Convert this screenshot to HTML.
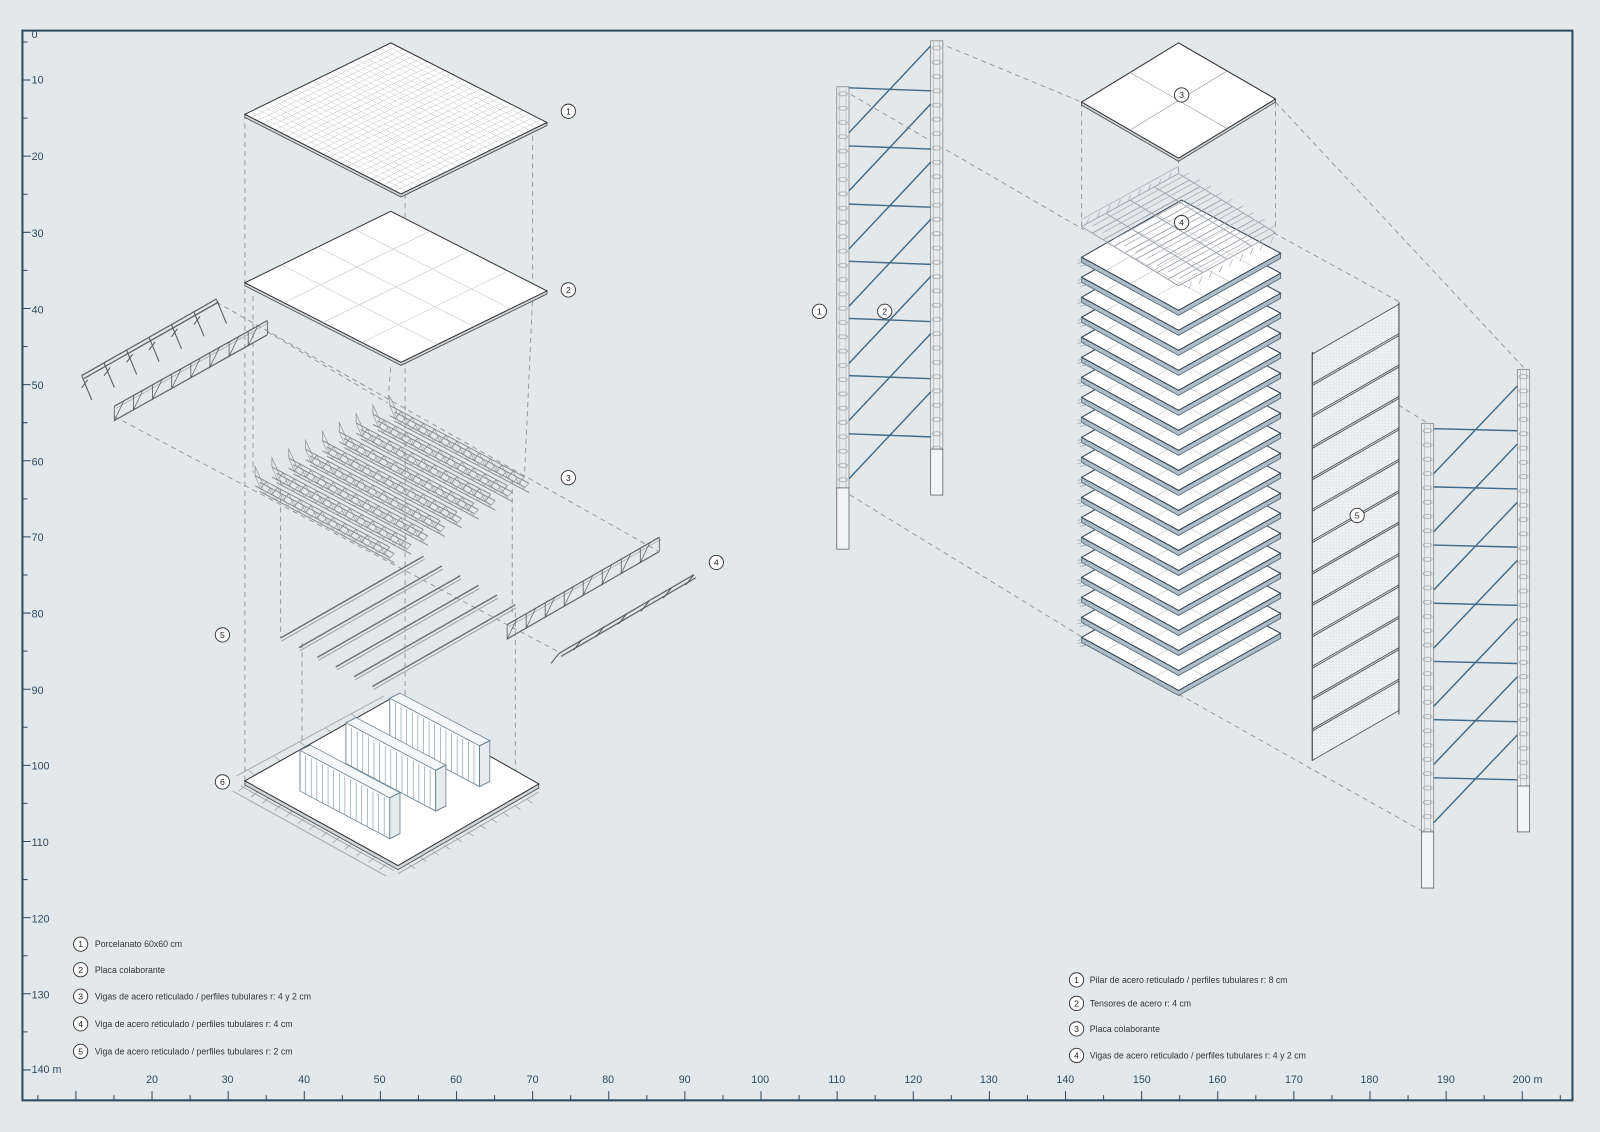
<!DOCTYPE html>
<html><head><meta charset="utf-8">
<style>
html,body{margin:0;padding:0;background:#e3e8eb;}
svg{display:block;}
text{font-family:"Liberation Sans",sans-serif;}
.ns{vector-effect:non-scaling-stroke;}
</style></head>
<body>
<svg xmlns="http://www.w3.org/2000/svg" xmlns:xlink="http://www.w3.org/1999/xlink" width="1600" height="1132" viewBox="0 0 1568 1109" preserveAspectRatio="none">
<defs>
<pattern id="g26" patternUnits="userSpaceOnUse" width="3.846" height="3.846"><path d="M0,0H3.846M0,0V3.846" stroke="#9aa3ab" stroke-width="0.35" fill="none"/></pattern>
<pattern id="dots" patternUnits="userSpaceOnUse" width="3" height="3"><rect width="3" height="3" fill="#eef0f2"/><circle cx="1.5" cy="1.5" r="0.5" fill="#cdd3d8"/></pattern>
<pattern id="rung" patternUnits="userSpaceOnUse" width="12" height="14"><ellipse cx="6" cy="7" rx="4.5" ry="2" fill="none" stroke="#999" stroke-width="0.7"/></pattern>
<g id="b3">
<path d="M0,0H149M0,10H149M5,4H154M5,13H154" stroke="#8a8a8a" stroke-width="1.1" fill="none"/>
<polyline points="0,0 6,10 12.4,0 18.4,10 24.8,0 30.8,10 37.2,0 43.2,10 49.6,0 55.6,10 62,0 68,10 74.4,0 80.4,10 86.8,0 92.8,10 99.2,0 105.2,10 111.6,0 117.6,10 124,0 130,10 136.4,0 142.4,10 148.8,0" fill="none" stroke="#8a8a8a" stroke-width="0.7"/>
<polyline points="5,4 11,13 17.4,4 23.4,13 29.8,4 35.8,13 42.2,4 48.2,13 54.6,4 60.6,13 67,4 73,13 79.4,4 85.4,13 91.8,4 97.8,13 104.2,4 110.2,13 116.6,4 122.6,13 129,4 135,13 141.4,4 147.4,13 153.8,4" fill="none" stroke="#9a9a9a" stroke-width="0.6"/>
<path d="M0,0V-9L8,3" stroke="#888" stroke-width="0.8" fill="none"/>
</g>
<g id="t2">
<path d="M0,0H172M0,14H172" stroke="#666" stroke-width="1.4" fill="none"/>
<path d="M2,3H174" stroke="#aaa" stroke-width="0.8" fill="none"/>
<path d="M0,0V14L10.75,0M21.5,0V14L32.25,0M43,0V14L53.75,0M64.5,0V14L75.25,0M86,0V14L96.75,0M107.5,0V14L118.25,0M129,0V14L139.75,0M150.5,0V14L161.25,0M172,0V14" stroke="#555" stroke-width="0.9" fill="none"/>
</g>
<g id="cab">
<polygon points="0,0 88,0 88,-40 0,-40" fill="#fff" stroke="#6a8090" stroke-width="0.9"/>
<polygon points="0,-40 88,-40 98,-50.3 10,-50.3" fill="#f4f6f7" stroke="#6a8090" stroke-width="0.8"/>
<polygon points="88,0 98,-10.3 98,-50.3 88,-40" fill="#e6ebee" stroke="#6a8090" stroke-width="0.8"/>
<path d="M5.5,-38V0M11,-38V0M16.5,-38V0M22,-38V0M27.5,-38V0M33,-38V0M38.5,-38V0M44,-38V0M49.5,-38V0M55,-38V0M60.5,-38V0M66,-38V0M71.5,-38V0M77,-38V0M82.5,-38V0" stroke="#7d93a2" stroke-width="0.6"/>
</g>
<g id="tp">
<polygon points="1060,0 1155,52 1255,-4 1255,1 1155,57 1060,5" fill="#aebdc7" stroke="#4a6272" stroke-width="0.8"/>
<path d="M1056,3L1066,1M1056,6L1066,4M1058,9L1068,7" stroke="#8fa5b3" stroke-width="0.7"/>
<polygon points="1060,0 1158,-56 1255,-4 1155,52" fill="#fff" stroke="#2f4150" stroke-width="1"/>
<path d="M1084.5,-14L1180,38M1109,-28L1205,24M1133.5,-42L1230,10M1083.75,13L1182.25,-43M1107.5,26L1206.5,-30M1131.25,39L1230.75,-17" stroke="#bbb" stroke-width="0.5"/>
</g>
<polygon id="fp" points="1286,347 1371,298 1371,326.8 1286,375.8" fill="url(#dots)" stroke="#555" stroke-width="0.9"/>
</defs>
<rect x="0" y="0" width="1568" height="1109" fill="#e3e8eb"/>

<path d="M240,112V765M522,115V290L514,467M397,190V710M383,360L380,395M248,290V463M502,470V600M275,470V625M296,630V725M505,600V770M212,296L645,540M112,408L550,640M262,325L380,395
M920,42L1060,100M826,88L1062,225M1250,100L1495,362M1248,228L1372,296M825,480L1062,625M1155,680L1395,815M1286,345L1400,415M1060,100V225M1250,100V225M1155,155V172" stroke="#8a949a" stroke-width="0.9" stroke-dasharray="5,4" fill="none"/>

<polygon points="240,112 393,190 536,120 536,123 393,193 240,115" fill="#cfd5d9" stroke="#444" stroke-width="0.8"/>
<g transform="matrix(1.43,-0.70,1.53,0.78,240,112)">
<rect x="0" y="0" width="100" height="100" fill="#fff"/>
<rect x="0" y="0" width="100" height="100" fill="url(#g26)" class="ns" stroke="#333" stroke-width="1"/>
</g>
<polygon points="240,277 393,355 536,285 536,288 393,358 240,280" fill="#cfd5d9" stroke="#444" stroke-width="0.8"/>
<g transform="matrix(1.43,-0.70,1.53,0.78,240,277)">
<rect x="0" y="0" width="100" height="100" fill="#fff" class="ns" stroke="#333" stroke-width="1"/>
<path d="M25,0V100M50,0V100M75,0V100M0,25H100M0,50H100M0,75H100" class="ns" stroke="#c4c8cc" stroke-width="0.6" fill="none"/>
</g>

<use xlink:href="#b3" transform="matrix(0.886,0.47,0,1,382,397.2)"/>
<use xlink:href="#b3" transform="matrix(0.886,0.47,0,1,365.5,405.8)"/>
<use xlink:href="#b3" transform="matrix(0.886,0.47,0,1,349,414.4)"/>
<use xlink:href="#b3" transform="matrix(0.886,0.47,0,1,332.5,423)"/>
<use xlink:href="#b3" transform="matrix(0.886,0.47,0,1,316,431.6)"/>
<use xlink:href="#b3" transform="matrix(0.886,0.47,0,1,299.5,440.2)"/>
<use xlink:href="#b3" transform="matrix(0.886,0.47,0,1,283,448.8)"/>
<use xlink:href="#b3" transform="matrix(0.886,0.47,0,1,266.5,457.4)"/>
<use xlink:href="#b3" transform="matrix(0.886,0.47,0,1,250,466)"/>

<path d="M275,625l140,-80M293,634.5l140,-80M311,644l140,-80M329,653.5l140,-80M347,663l140,-80M365,672.5l140,-80" stroke="#6f6f6f" stroke-width="1.4" fill="none"/>
<path d="M276,628l140,-80M294,637.5l140,-80M312,647l140,-80M330,656.5l140,-80M348,666l140,-80M366,675.5l140,-80" stroke="#a0a0a0" stroke-width="1" fill="none"/>

<path d="M80,368L212,293M82,371L214,296" stroke="#666" stroke-width="1.3" fill="none"/>
<path d="M80,368l10,24M102,355.5l10,24M124,343l10,24M146,330.5l10,24M168,318l10,24M190,305.5l10,24M212,293l10,24M86,372l-6,8M108,360l-6,8M130,347l-6,8M152,335l-6,8M174,322l-6,8M196,310l-6,8" stroke="#555" stroke-width="1" fill="none"/>
<use xlink:href="#t2" transform="matrix(0.872,-0.488,0,1,112,398)"/>
<use xlink:href="#t2" transform="matrix(0.867,-0.498,0,1,497,612)"/>
<path d="M548,640L680,563M550,643L682,566" stroke="#666" stroke-width="1.3" fill="none"/>
<path d="M548,640l-8,10M570,627l-8,10M592,614l-8,10M614,601.5l-8,10M636,589l-8,10M658,576l-8,10M680,563l-8,10" stroke="#555" stroke-width="1" fill="none"/>

<path d="M232,760L376,682M390,856L528,776M236,770l150,83M228,775l150,83" stroke="#aaa" stroke-width="1" fill="none"/>
<path d="M240,770l-6,5M252,776l-6,5M263,782l-6,5M275,789l-6,5M286,795l-6,5M298,802l-6,5M309,808l-6,5M321,815l-6,5M332,821l-6,5M344,827l-6,5M355,834l-6,5M367,840l-6,5M378,847l-6,5M401,847l6,4M412,840l6,4M424,834l6,4M435,828l6,4M447,821l6,4M458,815l6,4M470,808l6,4M481,802l6,4M493,796l6,4M504,789l6,4M516,783l6,4M250,760l-6,-5M275,746l-6,-5M300,732l-6,-5M325,718l-6,-5M350,704l-6,-5" stroke="#999" stroke-width="0.7" fill="none"/>
<polygon points="240,765 390,848 528,768 528,772 390,852 240,769" fill="#cfd5d9" stroke="#444" stroke-width="0.8"/>
<polygon points="240,765 382,685 528,768 390,848" fill="#fff" stroke="#333" stroke-width="1"/>
<use xlink:href="#cab" transform="matrix(1,0.53,0,1,382,724)"/>
<use xlink:href="#cab" transform="matrix(1,0.53,0,1,339,748)"/>
<use xlink:href="#cab" transform="matrix(1,0.53,0,1,294,775)"/>

<g transform="translate(820,85)"><rect width="12" height="393" fill="#e9ecee" stroke="#888" stroke-width="0.8"/><rect width="12" height="393" fill="url(#rung)"/><path d="M3,0V393M9,0V393" stroke="#aaa" stroke-width="0.6"/><rect y="393" width="12" height="60" fill="#f2f4f5" stroke="#666" stroke-width="0.8"/></g>
<g transform="translate(912,40)"><rect width="12" height="400" fill="#e9ecee" stroke="#888" stroke-width="0.8"/><rect width="12" height="400" fill="url(#rung)"/><path d="M3,0V400M9,0V400" stroke="#aaa" stroke-width="0.6"/><rect y="400" width="12" height="45" fill="#f2f4f5" stroke="#666" stroke-width="0.8"/></g>
<g transform="translate(1393,415)"><rect width="12" height="400" fill="#e9ecee" stroke="#888" stroke-width="0.8"/><rect width="12" height="400" fill="url(#rung)"/><path d="M3,0V400M9,0V400" stroke="#aaa" stroke-width="0.6"/><rect y="400" width="12" height="55" fill="#f2f4f5" stroke="#666" stroke-width="0.8"/></g>
<g transform="translate(1487,362)"><rect width="12" height="408" fill="#e9ecee" stroke="#888" stroke-width="0.8"/><rect width="12" height="408" fill="url(#rung)"/><path d="M3,0V408M9,0V408" stroke="#aaa" stroke-width="0.6"/><rect y="408" width="12" height="45" fill="#f2f4f5" stroke="#666" stroke-width="0.8"/></g>
<path d="M832,86L912,89M832,143L912,146M832,200L912,203M832,256L912,259M832,312L912,315M832,368L912,371M832,425L912,428
M832,130L912,45M832,187L912,102M832,244L912,159M832,300L912,215M832,356L912,271M832,412L912,327M832,469L912,384
M1405,420L1487,422M1405,477L1487,479M1405,534L1487,536M1405,591L1487,593M1405,648L1487,650M1405,705L1487,707M1405,762L1487,764
M1405,464L1487,378M1405,521L1487,435M1405,578L1487,492M1405,635L1487,549M1405,692L1487,606M1405,749L1487,663M1405,806L1487,720" stroke="#3f6a88" stroke-width="1.4" fill="none"/>

<use xlink:href="#tp" transform="translate(0,624.4)"/>
<use xlink:href="#tp" transform="translate(0,604.8)"/>
<use xlink:href="#tp" transform="translate(0,585.2)"/>
<use xlink:href="#tp" transform="translate(0,565.6)"/>
<use xlink:href="#tp" transform="translate(0,546)"/>
<use xlink:href="#tp" transform="translate(0,526.4)"/>
<use xlink:href="#tp" transform="translate(0,506.8)"/>
<use xlink:href="#tp" transform="translate(0,487.2)"/>
<use xlink:href="#tp" transform="translate(0,467.6)"/>
<use xlink:href="#tp" transform="translate(0,448)"/>
<use xlink:href="#tp" transform="translate(0,428.4)"/>
<use xlink:href="#tp" transform="translate(0,408.8)"/>
<use xlink:href="#tp" transform="translate(0,389.2)"/>
<use xlink:href="#tp" transform="translate(0,369.6)"/>
<use xlink:href="#tp" transform="translate(0,350)"/>
<use xlink:href="#tp" transform="translate(0,330.4)"/>
<use xlink:href="#tp" transform="translate(0,310.8)"/>
<use xlink:href="#tp" transform="translate(0,291.2)"/>
<use xlink:href="#tp" transform="translate(0,271.6)"/>
<use xlink:href="#tp" transform="translate(0,252)"/>

<g transform="matrix(0.95,-0.52,0.95,0.58,1060,222)" fill="none" stroke="#9aa0a8" stroke-width="0.9">
<path class="ns" d="M0,0H100M0,11.1H100M0,22.2H100M0,33.3H100M0,44.4H100M0,55.6H100M0,66.7H100M0,77.8H100M0,88.9H100M0,100H100M0,0V100M25,0V100M50,0V100M75,0V100M100,0V100"/>
</g>
<g transform="matrix(0.95,-0.52,0.95,0.58,1060,215)" fill="none" stroke="#aab0b8" stroke-width="0.8">
<path class="ns" d="M0,0H100M0,11.1H100M0,22.2H100M0,33.3H100M0,44.4H100M0,55.6H100M0,66.7H100M0,77.8H100M0,88.9H100M0,100H100"/>
</g>
<path d="M1065,219l3,-7M1075,214l3,-7M1085,208l3,-7M1095,203l3,-7M1105,198l3,-7M1115,192l3,-7M1125,187l3,-7M1135,182l3,-7M1145,176l3,-7M1165,283l3,-7M1175,278l3,-7M1185,272l3,-7M1195,267l3,-7M1205,261l3,-7M1215,256l3,-7M1225,250l3,-7M1235,245l3,-7M1245,239l3,-7" stroke="#aab" stroke-width="0.7"/>

<polygon points="1060,100 1155,155 1250,97 1250,100 1155,158 1060,103" fill="#cfd5d9" stroke="#444" stroke-width="0.8"/>
<polygon points="1060,100 1155,42 1250,97 1155,155" fill="#fff" stroke="#333" stroke-width="1"/>
<path d="M1107.5,71L1202.5,126M1107.5,127.5L1202.5,69.5" stroke="#999" stroke-width="0.6"/>

<use xlink:href="#fp"/>
<use xlink:href="#fp" transform="translate(0,30.77)"/>
<use xlink:href="#fp" transform="translate(0,61.54)"/>
<use xlink:href="#fp" transform="translate(0,92.31)"/>
<use xlink:href="#fp" transform="translate(0,123.08)"/>
<use xlink:href="#fp" transform="translate(0,153.85)"/>
<use xlink:href="#fp" transform="translate(0,184.62)"/>
<use xlink:href="#fp" transform="translate(0,215.38)"/>
<use xlink:href="#fp" transform="translate(0,246.15)"/>
<use xlink:href="#fp" transform="translate(0,276.92)"/>
<use xlink:href="#fp" transform="translate(0,307.69)"/>
<use xlink:href="#fp" transform="translate(0,338.46)"/>
<use xlink:href="#fp" transform="translate(0,369.23)"/>
<path d="M1286,345V745M1371,296V700" stroke="#444" stroke-width="1"/>

<rect x="22" y="30" width="1519" height="1048" fill="none" stroke="#2e4a60" stroke-width="2"/>
<path d="M22,41.1h5M22,78.4h8M22,115.7h5M22,153h8M22,190.3h5M22,227.6h8M22,264.9h5M22,302.2h8M22,339.5h5M22,376.8h8M22,414.1h5M22,451.4h8M22,488.7h5M22,526h8M22,563.3h5M22,600.6h8M22,637.9h5M22,675.2h8M22,712.5h5M22,749.8h8M22,787.1h5M22,824.4h8M22,861.7h5M22,899h8M22,936.3h5M22,973.6h8M22,1010.9h5M22,1048.2h8
M37.1,1078v-5M74.4,1078v-9M111.7,1078v-5M149,1078v-9M186.3,1078v-5M223.6,1078v-9M260.9,1078v-5M298.2,1078v-9M335.5,1078v-5M372.8,1078v-9M410.1,1078v-5M447.4,1078v-9M484.7,1078v-5M522,1078v-9M559.3,1078v-5M596.6,1078v-9M633.9,1078v-5M671.2,1078v-9M708.5,1078v-5M745.8,1078v-9M783.1,1078v-5M820.4,1078v-9M857.7,1078v-5M895,1078v-9M932.3,1078v-5M969.6,1078v-9M1006.9,1078v-5M1044.2,1078v-9M1081.5,1078v-5M1118.8,1078v-9M1156.1,1078v-5M1193.4,1078v-9M1230.7,1078v-5M1268,1078v-9M1305.3,1078v-5M1342.6,1078v-9M1379.9,1078v-5M1417.2,1078v-9M1454.5,1078v-5M1491.8,1078v-9M1529.1,1078v-5" stroke="#2e4a60" stroke-width="1"/>
<g fill="#2e4a60" font-size="10.5">
<text x="31" y="37">0</text>
<text x="31" y="82">10</text><text x="31" y="157">20</text><text x="31" y="232">30</text>
<text x="31" y="307">40</text><text x="31" y="381">50</text><text x="31" y="456">60</text>
<text x="31" y="530">70</text><text x="31" y="605">80</text><text x="31" y="680">90</text>
<text x="31" y="754">100</text><text x="31" y="829">110</text><text x="31" y="904">120</text>
<text x="31" y="978">130</text><text x="31" y="1051">140 m</text>
<g text-anchor="middle">
<text x="149" y="1061">20</text><text x="223" y="1061">30</text><text x="298" y="1061">40</text>
<text x="372" y="1061">50</text><text x="447" y="1061">60</text><text x="522" y="1061">70</text>
<text x="596" y="1061">80</text><text x="671" y="1061">90</text><text x="745" y="1061">100</text>
<text x="820" y="1061">110</text><text x="895" y="1061">120</text><text x="969" y="1061">130</text>
<text x="1044" y="1061">140</text><text x="1119" y="1061">150</text><text x="1193" y="1061">160</text>
<text x="1268" y="1061">170</text><text x="1342" y="1061">180</text><text x="1417" y="1061">190</text>
<text x="1497" y="1061">200 m</text>
</g>
</g>
<g font-size="8.6" fill="#333">
<text x="93" y="928">Porcelanato 60x60 cm</text>
<text x="93" y="953">Placa colaborante</text>
<text x="93" y="979">Vigas de acero reticulado / perfiles tubulares r: 4 y 2 cm</text>
<text x="93" y="1006">Viga de acero reticulado / perfiles tubulares r: 4 cm</text>
<text x="93" y="1033">Viga de acero reticulado / perfiles tubulares r: 2 cm</text>
<text x="1068" y="963">Pilar de acero reticulado / perfiles tubulares r: 8 cm</text>
<text x="1068" y="986">Tensores de acero r: 4 cm</text>
<text x="1068" y="1011">Placa colaborante</text>
<text x="1068" y="1037">Vigas de acero reticulado / perfiles tubulares r: 4 y 2 cm</text>
</g>
<g fill="#fff" stroke="#333" stroke-width="0.9">
<circle cx="79" cy="925" r="7"/><circle cx="79" cy="950" r="7"/><circle cx="79" cy="976" r="7"/><circle cx="79" cy="1003" r="7"/><circle cx="79" cy="1030" r="7"/>
<circle cx="1055" cy="960" r="7"/><circle cx="1055" cy="983" r="7"/><circle cx="1055" cy="1008" r="7"/><circle cx="1055" cy="1034" r="7"/>
<circle cx="557" cy="109" r="7"/><circle cx="557" cy="284" r="7"/><circle cx="557" cy="468" r="7"/><circle cx="702" cy="551" r="7"/>
<circle cx="218" cy="622" r="7"/><circle cx="218" cy="766" r="7"/>
<circle cx="803" cy="305" r="7"/><circle cx="867" cy="305" r="7"/><circle cx="1158" cy="93" r="7"/><circle cx="1158" cy="218" r="7"/><circle cx="1330" cy="505" r="7"/>
</g>
<g font-size="8.5" text-anchor="middle" fill="#222">
<text x="79" y="928">1</text><text x="79" y="953">2</text><text x="79" y="979">3</text><text x="79" y="1006">4</text><text x="79" y="1033">5</text>
<text x="1055" y="963">1</text><text x="1055" y="986">2</text><text x="1055" y="1011">3</text><text x="1055" y="1037">4</text>
<text x="557" y="112">1</text><text x="557" y="287">2</text><text x="557" y="471">3</text><text x="702" y="554">4</text>
<text x="218" y="625">5</text><text x="218" y="769">6</text>
<text x="803" y="308">1</text><text x="867" y="308">2</text><text x="1158" y="96">3</text><text x="1158" y="221">4</text><text x="1330" y="508">5</text>
</g>
</svg>
</body></html>
